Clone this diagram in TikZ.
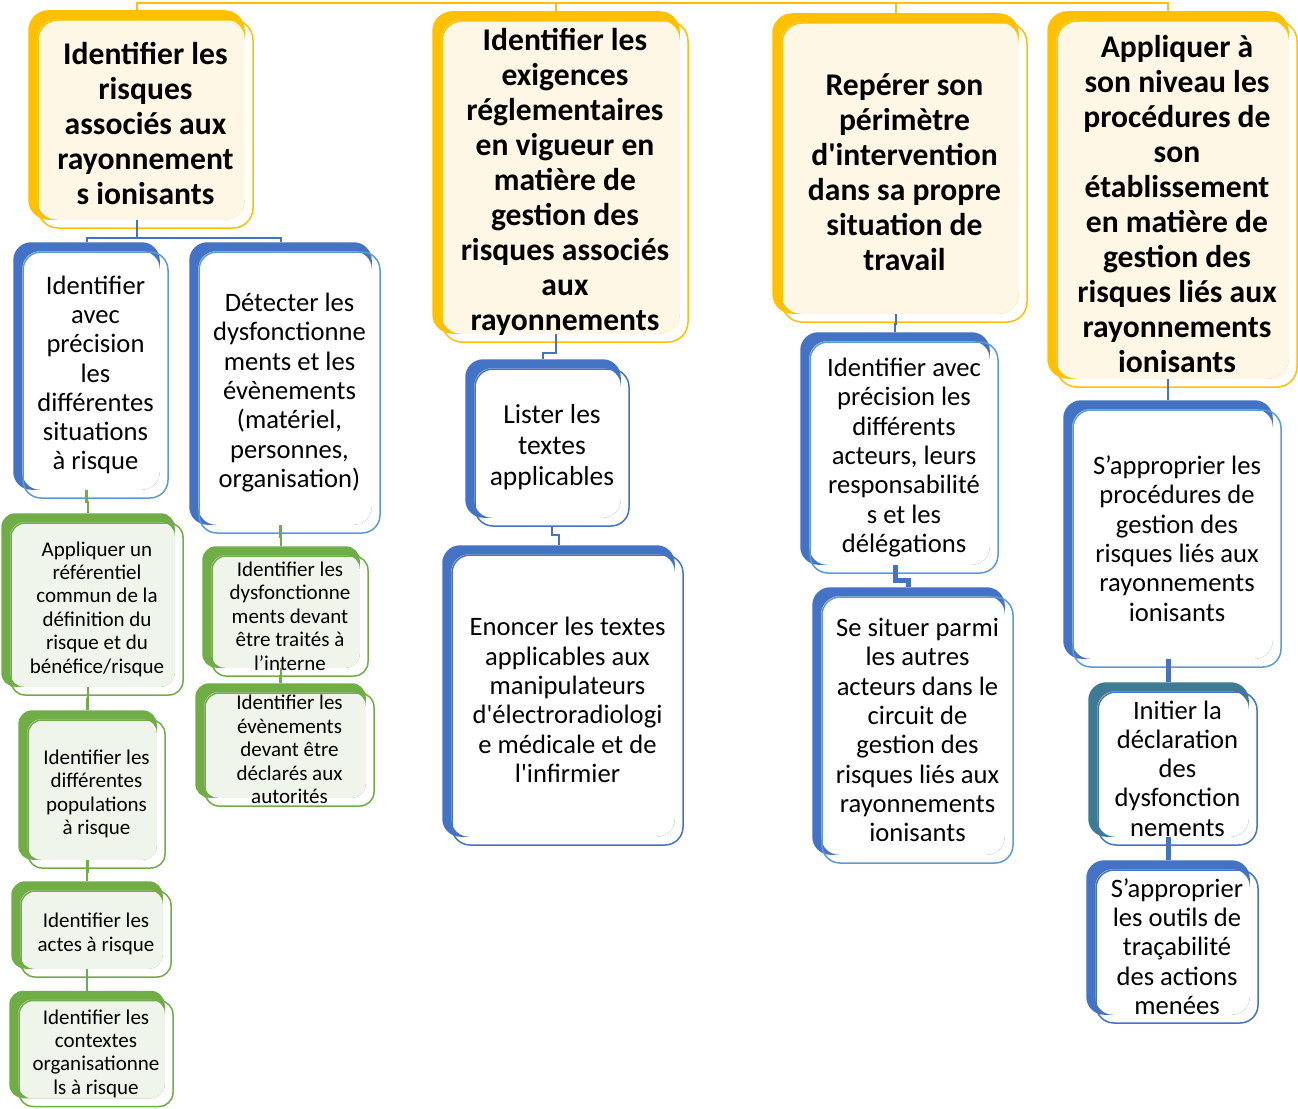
\documentclass[tikz,border=0pt]{standalone}
\usepackage{fontspec}
\setmainfont{Carlito}[Ligatures=TeXOff]
\usetikzlibrary{backgrounds}
\definecolor{gold}{RGB}{255,192,0}
\definecolor{cream}{RGB}{255,247,230}
\definecolor{bdark}{RGB}{68,114,196}
\definecolor{blight}{RGB}{91,155,213}
\definecolor{tealback}{RGB}{62,122,146}
\definecolor{gdark}{RGB}{112,173,71}
\definecolor{glight}{RGB}{239,245,234}
\tikzset{
  head/.style={draw=gold, line width=1.5pt, rounded corners=20pt, inner sep=0pt, align=center,
    font=\fontsize{31.6}{35}\selectfont\bfseries},
  skill/.style={draw=blight, line width=1.5pt, rounded corners=18pt, inner sep=0pt, align=center,
    font=\fontsize{26.6}{29.3}\selectfont},
  task/.style={draw=gdark, line width=1.5pt, rounded corners=14pt, inner sep=0pt, align=center,
    font=\fontsize{21}{23.4}\selectfont},
  bk/.style={shift={(-9,-9)}},
  topline/.style={gold, line width=2pt},
  bline/.style={bdark, line width=2pt},
  bthick/.style={bdark, line width=5pt},
  gline/.style={gdark, line width=2.5pt}
}

\begin{document}
\begin{tikzpicture}[x=1pt, y=-1pt]
\useasboundingbox (0,0) rectangle (1298,1108);

\node[head, minimum width=215pt, minimum height=208pt] (h1) at (145.5,124)
  {Identifier les\\risques\\associés aux\\rayonnement\\s ionisants};
\node[head, minimum width=246pt, minimum height=321pt] (h2) at (565,181.5)
  {Identifier les\\exigences\\réglementaires\\en vigueur en\\matière de\\gestion des\\risques associés\\aux\\rayonnements};
\node[head, minimum width=245pt, minimum height=299pt] (h3) at (904.5,172.5)
  {Repérer son\\périmètre\\d'intervention\\dans sa propre\\situation de\\travail};
\node[head, minimum width=240pt, minimum height=366pt] (h4) at (1177,204)
  {Appliquer à\\son niveau les\\procédures de\\son\\établissement\\en matière de\\gestion des\\risques liés aux\\rayonnements\\ionisants};

\node[skill, minimum width=145pt, minimum height=246pt] (b1) at (95.5,375)
  {Identifier\\avec\\précision\\les\\différentes\\situations\\à risque};
\node[skill, minimum width=181pt, minimum height=281pt] (b2) at (289.5,392.5)
  {Détecter les\\dysfonctionne\\ments et les\\évènements\\(matériel,\\personnes,\\organisation)};
\node[skill, draw=bdark, minimum width=154pt, minimum height=157pt,
  font=\fontsize{27.5}{31}\selectfont] (l1) at (552,447.5)
  {Lister les\\textes\\applicables};
\node[skill, draw=bdark, minimum width=231pt, minimum height=290pt] (e1) at (567.5,700)
  {Enoncer les textes\\applicables aux\\manipulateurs\\d'électroradiologi\\e médicale et de\\l'infirmier};
\node[skill, minimum width=188pt, minimum height=231pt] (b3) at (904,457.5)
  {Identifier avec\\précision les\\différents\\acteurs, leurs\\responsabilité\\s et les\\délégations};
\node[skill, minimum width=191pt, minimum height=266pt] (b4) at (917.5,730)
  {Se situer parmi\\les autres\\acteurs dans le\\circuit de\\gestion des\\risques liés aux\\rayonnements\\ionisants};
\node[skill, minimum width=208pt, minimum height=257pt] (b5) at (1177,538.5)
  {S’approprier les\\procédures de\\gestion des\\risques liés aux\\rayonnements\\ionisants};
\node[skill, draw=bdark, minimum width=159pt, minimum height=153pt] (b6) at (1177.5,768.5)
  {Initier la\\déclaration\\des\\dysfonction\\nements};
\node[skill, draw=bdark, minimum width=162pt, minimum height=153pt] (b7) at (1177,946.5)
  {S’approprier\\les outils de\\traçabilité\\des actions\\menées};

\node[task, minimum width=172pt, minimum height=172pt] (g1) at (97,609)
  {Appliquer un\\référentiel\\commun de la\\définition du\\risque et du\\bénéfice/risque};
\node[task, minimum width=137pt, minimum height=148pt] (g2) at (96.5,794)
  {Identifier les\\différentes\\populations\\à risque};
\node[task, minimum width=150pt, minimum height=86pt] (g3) at (96,934)
  {Identifier les\\actes à risque};
\node[task, minimum width=154pt, minimum height=106pt] (g4) at (96,1053.5)
  {Identifier les\\contextes\\organisationne\\ls à risque};
\node[task, minimum width=156pt, minimum height=120pt] (g5) at (290,616)
  {Identifier les\\dysfonctionne\\ments devant\\être traités à\\l’interne};
\node[task, minimum width=169pt, minimum height=113pt] (g6) at (289.5,749.5)
  {Identifier les\\évènements\\devant être\\déclarés aux\\autorités};

\begin{scope}[on background layer]
\fill[white] (0,0) rectangle (1298,1108);
\foreach \n/\dk/\lt/\r in {h1/gold/cream/20, h2/gold/cream/20, h3/gold/cream/20, h4/gold/cream/20,
    b1/bdark/white/18, b2/bdark/white/18, l1/bdark/white/18, e1/bdark/white/18, b3/bdark/white/18,
    b4/bdark/white/18, b5/bdark/white/18, b6/tealback/white/18, b7/bdark/white/18,
    g1/gdark/glight/14, g2/gdark/glight/14, g3/gdark/glight/14, g4/gdark/glight/14,
    g5/gdark/glight/14, g6/gdark/glight/14} {
  \fill[\dk, rounded corners=\r pt] ([bk]\n.south west) rectangle ([bk]\n.north east);
  \fill[\lt, rounded corners=\r pt] ([yshift=9pt]\n.south west) rectangle ([xshift=-9pt]\n.north east);
}
\end{scope}

\coordinate (top) at (685,3);
\foreach \c in {h1,h2,h3,h4}
  \draw[topline] (top) -| ([bk]\c.north);

\draw[bline] ([bk]h1.south) -- ++(0,18) -| ([bk]b1.north);
\draw[bline] ([bk]h1.south) -- ++(0,18) -| ([bk]b2.north);
\draw[bline] ([bk]h2.south) -- ++(0,19) -| ([bk]l1.north);
\draw[bline] (l1.south) -- ++(0,8) -| ([bk]e1.north);
\draw[bline] ([bk]h3.south) -- ++(0,10) -| ([bk]b3.north);
\draw[bthick] ([bk]b3.south) -- ++(0,16) -| ([bk]b4.north);
\draw[bline] ([bk]h4.south) -- ++(0,12) -| ([bk]b5.north);
\draw[bthick] ([bk]b5.south) -- ++(0,12) -| ([bk]b6.north);
\draw[bthick] ([bk]b6.south) -- ++(0,12) -| ([bk]b7.north);

\draw[gline] ([bk]b1.south) -- ++(0,12) -| ([bk]g1.north);
\draw[gline] ([bk]g1.south) -- ++(0,12) -| ([bk]g2.north);
\draw[gline] ([bk]g2.south) -- ++(0,12) -| ([bk]g3.north);
\draw[gline] ([bk]g3.south) -- ++(0,12) -| ([bk]g4.north);
\draw[gline] ([bk]b2.south) -- ++(0,12) -| ([bk]g5.north);
\draw[gline] ([bk]g5.south) -- ++(0,8) -| ([bk]g6.north);
\end{tikzpicture}
\end{document}
